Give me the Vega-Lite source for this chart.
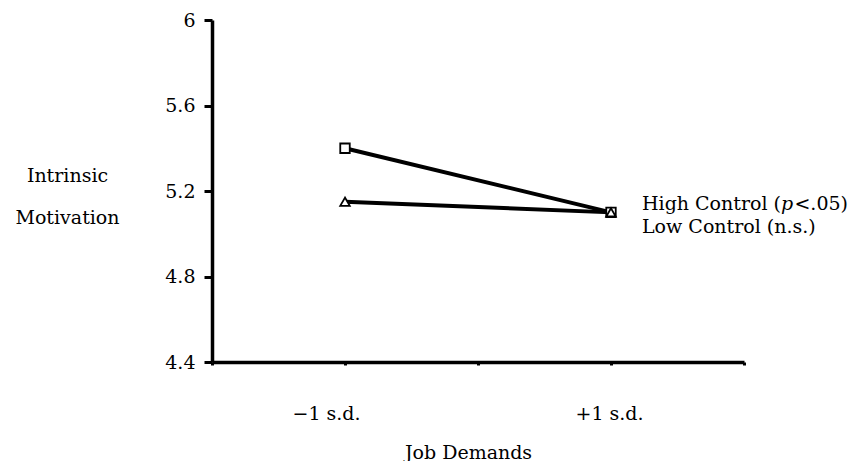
{
  "$schema": "https://vega.github.io/schema/vega-lite/v6.json",
  "width": 532,
  "height": 342,
  "autosize": {"type": "none"},
  "padding": {"left": 212, "top": 20, "right": 105, "bottom": 99},
  "background": "white",
  "config": {
    "view": {"stroke": null},
    "font": "DejaVu Serif",
    "axis": {"grid": false, "domainColor": "black", "tickColor": "black", "labelColor": "black", "titleColor": "black", "labelFont": "DejaVu Serif", "titleFont": "DejaVu Serif", "titleFontWeight": "normal"}
  },
  "data": {
    "values": [
      {"demand": 1, "motivation": 5.40, "series": "High Control"},
      {"demand": 3, "motivation": 5.10, "series": "High Control"},
      {"demand": 1, "motivation": 5.15, "series": "Low Control"},
      {"demand": 3, "motivation": 5.10, "series": "Low Control"}
    ]
  },
  "encoding": {
    "x": {
      "field": "demand", "type": "quantitative",
      "scale": {"domain": [0, 4], "nice": false, "zero": false},
      "axis": {
        "values": [0, 1, 2, 3, 4],
        "labelExpr": "datum.value == 1 ? '−1 s.d.' : datum.value == 3 ? '+1 s.d.' : ''",
        "labelOffset": {"condition": {"test": "datum.value == 1", "value": -19}, "value": -2},
        "domainWidth": 3.5, "tickWidth": 3, "tickSize": 3,
        "labelFontSize": 19, "labelPadding": 48, "labelBaseline": "middle",
        "title": "Job Demands", "titleFontSize": 19, "titleX": 256, "titleY": 90, "titleBaseline": "middle"
      }
    },
    "y": {
      "field": "motivation", "type": "quantitative",
      "scale": {"domain": [4.4, 6], "nice": false, "zero": false},
      "axis": {
        "values": [4.4, 4.8, 5.2, 5.6, 6], "format": ".1~f",
        "domainWidth": 3.5, "tickWidth": 3, "tickSize": 8,
        "labelFontSize": 19, "labelPadding": 9,
        "title": ["Intrinsic", "Motivation"], "titleFontSize": 19, "titleAngle": 0,
        "titleAlign": "center", "titleX": -145, "titleY": 161, "titleBaseline": "alphabetic", "titleLineHeight": 42
      }
    }
  },
  "layer": [
    {
      "mark": {"type": "line", "color": "black", "strokeWidth": 4},
      "encoding": {"detail": {"field": "series"}}
    },
    {
      "mark": {"type": "point", "filled": false, "color": "black", "strokeWidth": 1.8, "opacity": 1, "fill": "white"},
      "encoding": {
        "shape": {"field": "series", "type": "nominal", "scale": {"domain": ["High Control", "Low Control"], "range": ["square", "triangle-up"]}, "legend": null},
        "size": {"value": 90}
      }
    },
    {
      "transform": [{"filter": "datum.demand == 3 && datum.series == 'High Control'"}],
      "mark": {"type": "text", "align": "left", "baseline": "middle", "dx": 31, "dy": -8, "fontSize": 19, "color": "black"},
      "encoding": {"text": {"value": "High Control ("}}
    },
    {
      "transform": [{"filter": "datum.demand == 3 && datum.series == 'High Control'"}],
      "mark": {"type": "text", "align": "left", "baseline": "middle", "dx": 170, "dy": -8, "fontSize": 19, "fontStyle": "italic", "color": "black"},
      "encoding": {"text": {"value": "p"}}
    },
    {
      "transform": [{"filter": "datum.demand == 3 && datum.series == 'High Control'"}],
      "mark": {"type": "text", "align": "right", "baseline": "middle", "dx": 237, "dy": -8, "fontSize": 19, "color": "black"},
      "encoding": {"text": {"value": "<.05)"}}
    },
    {
      "transform": [{"filter": "datum.demand == 3 && datum.series == 'Low Control'"}],
      "mark": {"type": "text", "align": "left", "baseline": "middle", "dx": 31, "dy": 15, "fontSize": 19, "color": "black"},
      "encoding": {"text": {"value": "Low Control (n.s.)"}}
    }
  ]
}
